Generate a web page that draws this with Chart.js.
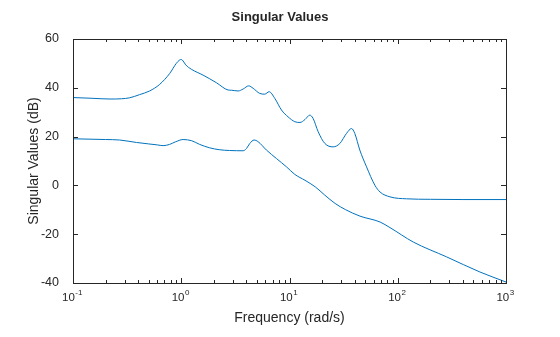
<!DOCTYPE html>
<html>
<head>
<meta charset="utf-8">
<script src="https://cdn.jsdelivr.net/npm/chart.js@4.4.0/dist/chart.umd.min.js"></script>
<style>
html, body { margin: 0; padding: 0; background: #fff; }
</style>
</head>
<body>
<canvas id="sv" width="560" height="337"></canvas>
<script>
// (rad/s, dB)
const upperFreq = [0.1, 0.15, 0.22, 0.28, 0.334, 0.412, 0.51, 0.632, 0.783, 0.9, 0.96, 1.0, 1.04, 1.1, 1.24, 1.59, 2.11, 2.71, 2.91, 3.35, 3.73, 4.2, 4.61, 5.31, 5.91, 6.48, 7.31, 8.43, 9.7, 11.2, 12.5, 13.9, 15.4, 16.5, 18.4, 21.2, 25.3, 29.2, 33.6, 37.4, 40.1, 44.6, 51.5, 61.4, 68.6, 84.8, 121, 200, 400, 1000];
const upperDb   = [36.0, 35.7, 35.4, 35.5, 35.9, 37.2, 38.7, 41.4, 45.9, 50.0, 51.3, 51.6, 51.0, 49.4, 47.6, 45.2, 42.1, 39.1, 39.0, 38.7, 39.5, 40.8, 39.8, 37.7, 37.4, 38.4, 35.7, 30.9, 28.1, 26.1, 25.8, 27.0, 28.8, 27.5, 22.0, 17.2, 15.8, 17.2, 21.3, 23.3, 21.3, 14.5, 7.6, 0.1, -2.7, -4.7, -5.5, -5.7, -5.8, -5.8];

const lowerFreq = [0.1, 0.2, 0.27, 0.385, 0.5, 0.6, 0.68, 0.78, 0.88, 1.04, 1.25, 1.48, 1.83, 2.27, 2.8, 3.73, 4.0, 4.3, 4.71, 5.13, 6.12, 7.58, 9.38, 11.2, 13.9, 17.3, 21.2, 26.4, 32.8, 44.8, 68.6, 84.8, 139, 283, 575, 1000];
const lowerDb   = [19.1, 18.8, 18.6, 17.6, 17.0, 16.6, 16.3, 16.8, 17.8, 18.8, 18.3, 16.8, 15.4, 14.6, 14.3, 14.2, 15.1, 17.2, 18.6, 17.9, 14.5, 11.0, 7.6, 4.5, 2.1, -0.6, -4.0, -7.4, -9.9, -12.6, -15.0, -17.3, -23.2, -29.3, -35.5, -39.6];

const xDecades = [0.1, 1, 10, 100, 1000];
const xExponents = ['-1', '0', '1', '2', '3'];
const yTicks = [-40, -20, 0, 20, 40, 60];

const lineColor = '#0072BD';
const axisColor = '#262626';
Chart.defaults.font.family = '"Liberation Sans", Arial, Helvetica, sans-serif';
Chart.defaults.color = axisColor;

function toPoints(xs, ys) {
    return xs.map((v, i) => ({ x: v, y: ys[i] }));
}

// minor ticks 1..9 in every decade
let xTickValues = [];
for (let i = 0; i < xDecades.length; i++) {
    if (i == xDecades.length - 1) {
        xTickValues.push(xDecades[i]);
        break;
    }
    for (let m = 1; m < 10; m++) {
        xTickValues.push(+(xDecades[i] * m).toPrecision(3));
    }
}

// MATLAB style box with inward ticks and 10^n labels
const boxTicks = {
    id: 'boxTicks',
    afterDraw(chart) {
        const { ctx, chartArea: a, scales: { x, y } } = chart;
        ctx.save();
        ctx.strokeStyle = axisColor;
        ctx.lineWidth = 1;
        ctx.beginPath();
        x.ticks.forEach(t => {
            const px = Math.round(x.getPixelForValue(t.value)) + 0.5;
            const len = xDecades.includes(t.value) ? 5 : 3;
            ctx.moveTo(px, a.bottom); ctx.lineTo(px, a.bottom - len);
            ctx.moveTo(px, a.top); ctx.lineTo(px, a.top + len);
        });
        y.ticks.forEach(t => {
            const py = Math.round(y.getPixelForValue(t.value)) + 0.5;
            ctx.moveTo(a.left, py); ctx.lineTo(a.left + 5, py);
            ctx.moveTo(a.right, py); ctx.lineTo(a.right - 5, py);
        });
        ctx.stroke();
        ctx.strokeRect(Math.round(a.left) + 0.5, Math.round(a.top) + 0.5, Math.round(a.width), Math.round(a.height));

        ctx.fillStyle = axisColor;
        ctx.textBaseline = 'alphabetic';
        ctx.textAlign = 'left';
        const baseFont = '11.5px ' + Chart.defaults.font.family;
        const expFont = '8px ' + Chart.defaults.font.family;
        xDecades.forEach((v, i) => {
            const px = x.getPixelForValue(v);
            ctx.font = baseFont;
            const w1 = ctx.measureText('10').width;
            ctx.font = expFont;
            const w2 = ctx.measureText(xExponents[i]).width;
            const start = px - (w1 + w2) / 2 - 1;
            ctx.font = baseFont;
            ctx.fillText('10', start, a.bottom + 18);
            ctx.font = expFont;
            ctx.fillText(xExponents[i], start + w1 + 0.5, a.bottom + 12);
        });
        ctx.restore();
    }
};

const svConfig = {
    type: 'scatter',
    data: {
        datasets: [{
            label: 'sv1',
            data: toPoints(upperFreq, upperDb),
        }, {
            label: 'sv2',
            data: toPoints(lowerFreq, lowerDb),
        }]
    },
    options: {
        responsive: false,
        animation: false,
        showLine: true,
        elements: {
            point: { radius: 0, hoverRadius: 0 },
            line: { borderColor: lineColor, borderWidth: 1, cubicInterpolationMode: 'monotone', fill: false }
        },
        scales: {
            x: {
                type: 'logarithmic',
                min: 0.1,
                max: 1000,
                grid: { display: false },
                border: { display: false },
                ticks: { display: false },
                afterBuildTicks: (scale) => {
                    scale.ticks = xTickValues.map(v => ({ value: v }));
                },
                afterFit: (scale) => { scale.height = 54; },
                title: {
                    display: true,
                    text: 'Frequency (rad/s)',
                    font: { size: 14 },
                    padding: { top: 0, bottom: 10 }
                }
            },
            y: {
                min: -40,
                max: 60,
                grid: { display: false },
                border: { display: false },
                afterBuildTicks: (scale) => {
                    scale.ticks = yTicks.map(v => ({ value: v }));
                },
                ticks: { font: { size: 12.5 }, padding: 6 },
                afterFit: (scale) => { scale.width = 73; },
                title: {
                    display: true,
                    text: 'Singular Values (dB)',
                    font: { size: 14 },
                    padding: { top: 26, bottom: 0 }
                }
            },
            // empty right-hand margin so the title centres on the canvas
            yRight: {
                type: 'linear',
                position: 'right',
                grid: { display: false },
                border: { display: false },
                ticks: { display: false },
                afterFit: (scale) => { scale.width = 54; }
            }
        },
        plugins: {
            legend: { display: false },
            tooltip: { enabled: false },
            title: {
                display: true,
                text: 'Singular Values',
                font: { size: 13, weight: 'bold' },
                color: axisColor,
                padding: { top: 10, bottom: 13.4 }
            }
        }
    },
    plugins: [boxTicks]
};

var svChart = new Chart(document.getElementById('sv').getContext('2d'), svConfig);
</script>
</body>
</html>
